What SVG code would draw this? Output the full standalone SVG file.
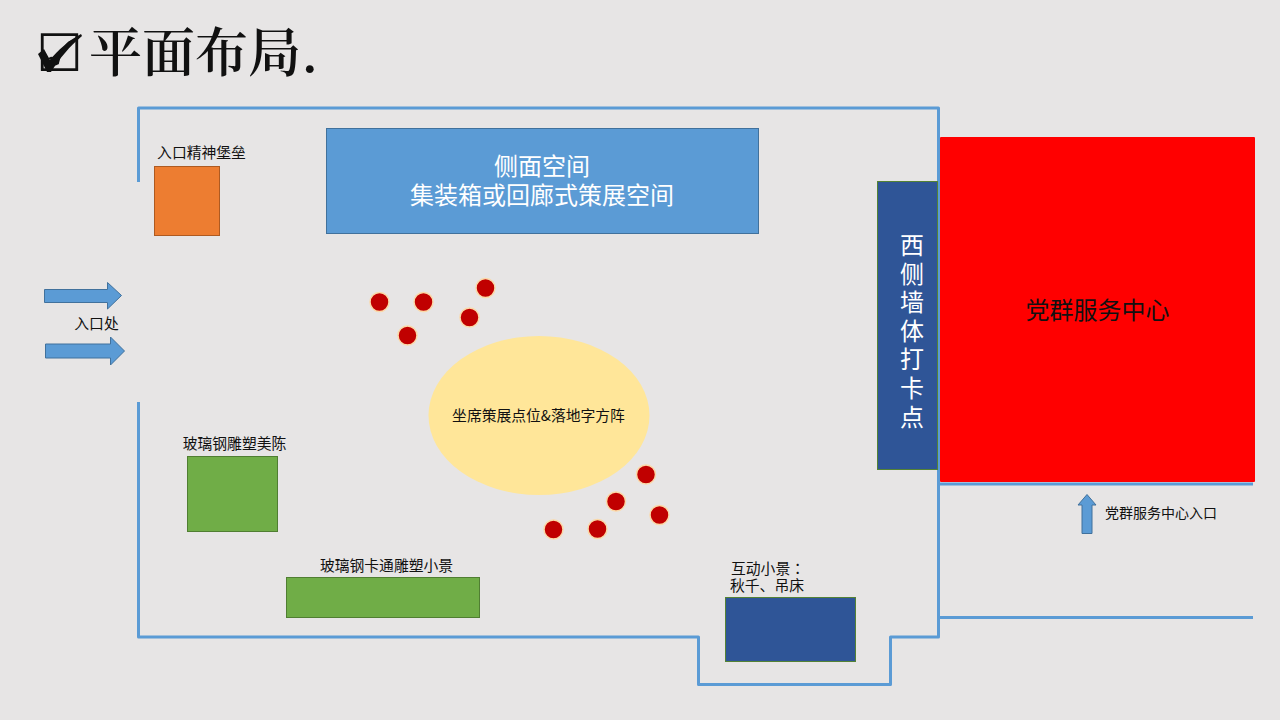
<svg xmlns="http://www.w3.org/2000/svg" width="1280" height="720" viewBox="0 0 1280 720">
<style>
text{font-family:"Noto Sans CJK SC","Liberation Sans",sans-serif;fill:#111}
.c{text-anchor:middle}
.w{fill:none;stroke:#5b9bd5;stroke-width:3;stroke-linejoin:round}
.arrow{fill:#5b9bd5;stroke:#41719c;stroke-width:1}
.dot{fill:#c00000;stroke:#fbd9a8;stroke-width:1.500}
.s{font-size:14.800px}
.l{fill:#fff;font-size:24px}
</style>
<rect width="1280" height="720" fill="#e7e5e5"/>
<g id="connectors">
<path class="w" d="M138.500 182V108H938.500V637H890.500V684.500H698.500V637H138.500V402"/>
<path class="w" d="M938.500 484H1253M938.500 617.500H1253"/>
</g>
<g id="title">
<text x="36" y="71" style="font-family:'DejaVu Sans',sans-serif;font-size:52px">☑</text>
<path d="M38 54L44 49L50 60C58 50 68 41 81 34L82 36C70 46 59 59 51 72H47Z" fill="#111"/>
<text x="89" y="72" style="font-family:'Noto Serif CJK SC','Noto Sans CJK SC',serif;font-size:53px;font-weight:600">平面布局.</text>
</g>
<g id="fort"><rect x="154.500" y="166.500" width="65" height="69" fill="#ed7d31" stroke="#ae5a21"/><text class="c s" x="201.500" y="157.500">入口精神堡垒</text></g>
<g id="side"><rect x="326.500" y="128.500" width="432" height="105" fill="#5b9bd5" stroke="#41719c"/><text class="c l" x="542" y="175">侧面空间</text><text class="c l" x="542" y="204">集装箱或回廊式策展空间</text></g>
<g id="westwall"><rect x="877.500" y="181.500" width="60" height="288" fill="#2f5597" stroke="#548235"/>
<text class="c l"><tspan x="912" y="254">西</tspan><tspan x="912" y="283">侧</tspan><tspan x="912" y="311">墙</tspan><tspan x="912" y="340">体</tspan><tspan x="912" y="368">打</tspan><tspan x="912" y="397">卡</tspan><tspan x="912" y="426">点</tspan></text></g>
<g id="center"><rect x="940" y="137" width="315" height="345" rx="1" fill="#f00"/><text class="c" style="font-size:24px" x="1097.500" y="319">党群服务中心</text></g>
<g id="entry"><path class="arrow" d="M44.500 289.500H107.500V282.500L121.500 295.500L107.500 309V302.500H44.500Z"/><path class="arrow" d="M45.500 344H110.500V337L124.500 351L110.500 365V358H45.500Z"/><text class="c s" x="96.500" y="328.500">入口处</text></g>
<g id="seat"><ellipse cx="539" cy="415.500" rx="110.500" ry="79.500" fill="#ffe699"/><text class="c s" x="538.500" y="420.500">坐席策展点位&amp;落地字方阵</text></g>
<g id="dots">
<circle class="dot" cx="379.500" cy="302" r="9.500"/><circle class="dot" cx="423.500" cy="302" r="9.500"/><circle class="dot" cx="485.500" cy="288" r="9.500"/><circle class="dot" cx="469.500" cy="317.500" r="9.500"/><circle class="dot" cx="407.500" cy="335.500" r="9.500"/>
<circle class="dot" cx="646" cy="474.500" r="9.500"/><circle class="dot" cx="616" cy="501.500" r="9.500"/><circle class="dot" cx="659.500" cy="515" r="9.500"/><circle class="dot" cx="553.500" cy="529.500" r="9.500"/><circle class="dot" cx="597.500" cy="529" r="9.500"/>
</g>
<g id="sculpt1"><rect x="187.500" y="456.500" width="90" height="75" fill="#70ad47" stroke="#507e32"/><text class="c s" x="234.500" y="448.500">玻璃钢雕塑美陈</text></g>
<g id="sculpt2"><rect x="286.500" y="577.500" width="193" height="40" fill="#70ad47" stroke="#507e32"/><text class="c s" x="386.500" y="570.500">玻璃钢卡通雕塑小景</text></g>
<g id="swing"><rect x="725.500" y="597.500" width="130" height="64" fill="#2f5597" stroke="#548235"/><text class="s" x="731" y="574">互动小景<tspan style="font-family:'Noto Sans CJK TC',sans-serif">：</tspan></text><text class="s" x="730" y="591">秋千、吊床</text></g>
<g id="door"><path class="arrow" d="M1082 533.500V505H1078L1087 494.500L1096 505H1092V533.500Z"/><text x="1105" y="518" style="font-size:14px">党群服务中心入口</text></g>
</svg>
